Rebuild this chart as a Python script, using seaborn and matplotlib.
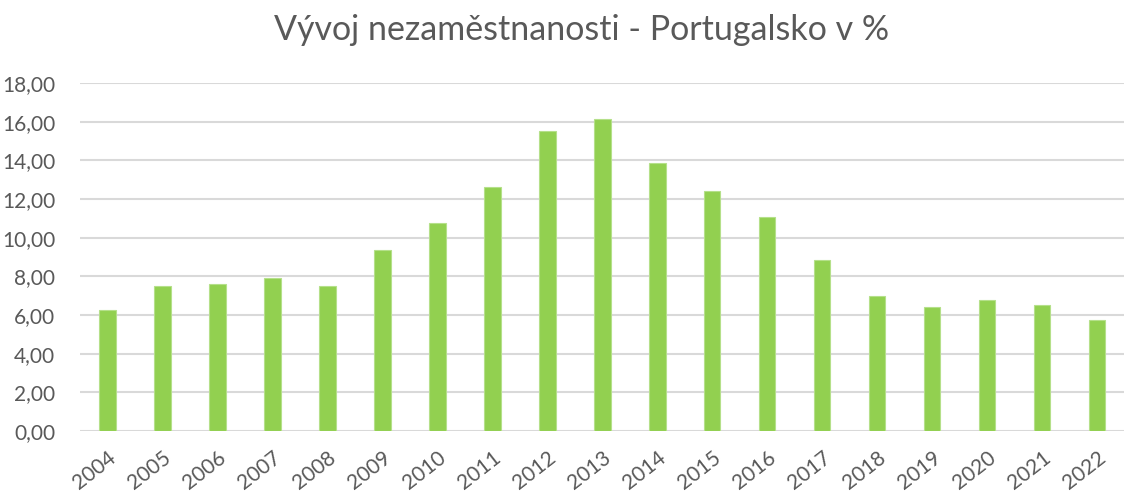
import matplotlib
matplotlib.use("Agg")
import matplotlib.pyplot as plt
import seaborn as sns
import pandas as pd

years = ["2004", "2005", "2006", "2007", "2008", "2009", "2010", "2011", "2012", "2013",
         "2014", "2015", "2016", "2017", "2018", "2019", "2020", "2021", "2022"]
unemployment = [6.28, 7.52, 7.63, 7.94, 7.52, 9.39, 10.74, 12.63, 15.52, 16.17,
                13.86, 12.44, 11.05, 8.84, 6.97, 6.44, 6.77, 6.54, 5.76]
y_ticks = [0, 2, 4, 6, 8, 10, 12, 14, 16, 18]
title = "Vývoj nezaměstnanosti - Portugalsko v %"

df = pd.DataFrame({"rok": years, "hodnota": unemployment})

sns.set_theme(style="white")
plt.rcParams["font.family"] = ["Lato", "DejaVu Sans"]

fig = plt.figure(figsize=(11.29, 4.92), dpi=100)
ax = fig.add_axes([0.071, 0.124, 0.925, 0.707])

sns.barplot(data=df, x="rok", y="hodnota", color="#92D050", width=0.3,
            saturation=1, edgecolor="#b5e08a", linewidth=0.8, ax=ax, zorder=3)

ax.set_xlim(-0.5, len(years) - 0.5)
ax.set_ylim(0, 18)
ax.set_yticks(y_ticks)
ax.set_yticklabels([f"{v:.2f}".replace(".", ",") for v in y_ticks])
ax.grid(axis="y", color="#d9d9d9", linewidth=1.5, zorder=0)
ax.set_axisbelow(True)
for s in ax.spines.values():
    s.set_visible(False)
ax.set_xlabel("")
ax.set_ylabel("")
ax.tick_params(axis="both", length=0, labelsize=15, labelcolor="#595959")
ax.tick_params(axis="y", pad=18)
plt.setp(ax.get_xticklabels(), rotation=38, ha="right", rotation_mode="anchor")
ax.tick_params(axis="x", pad=12)

fig.text(0.515, 0.94, title, ha="center", va="center", fontsize=24.5, color="#595959")

fig.savefig("out.png", dpi=100)
